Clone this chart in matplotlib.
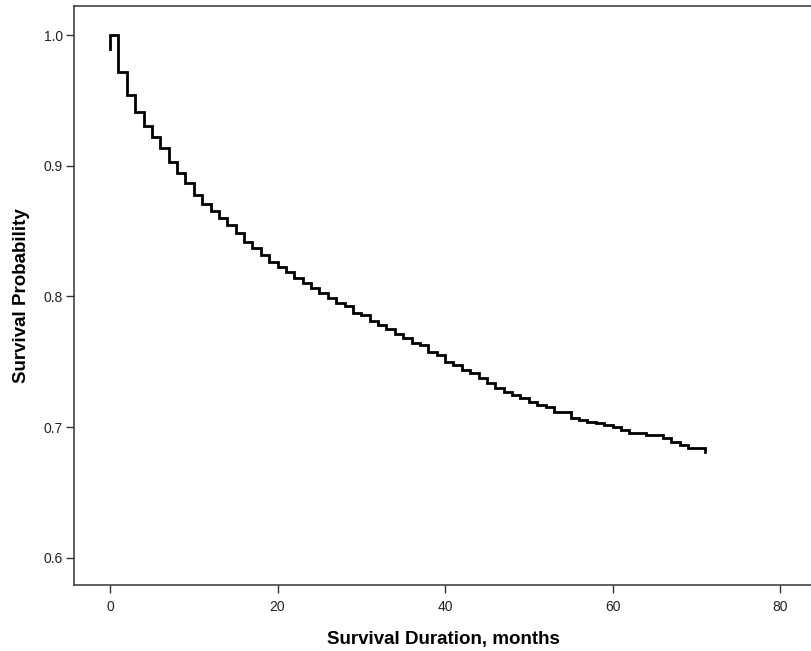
import matplotlib
matplotlib.use("Agg")
import matplotlib.pyplot as plt

# Kaplan-Meier estimate (months, survival probability)
months = [0, 0, 1, 2, 3, 4, 5, 6, 7, 8, 9, 10,
          11, 12, 13, 14, 15, 16, 17, 18, 19, 20,
          21, 22, 23, 24, 25, 26, 27, 28, 29, 30,
          31, 32, 33, 34, 35, 36, 37, 38, 39, 40,
          41, 42, 43, 44, 45, 46, 47, 48, 49, 50,
          51, 52, 53, 55, 56, 57, 58, 59, 60,
          61, 62, 64, 66, 67, 68, 69, 71]
survival = [0.989, 1.000, 0.9719, 0.9541, 0.9409, 0.9304, 0.9217, 0.9133, 0.9031, 0.8946, 0.8870, 0.8776,
            0.8707, 0.8656, 0.8598, 0.8546, 0.8483, 0.8419, 0.8368, 0.8317, 0.8265, 0.8227,
            0.8189, 0.8138, 0.8100, 0.8062, 0.8024, 0.7985, 0.7947, 0.7927, 0.7875, 0.7858,
            0.7814, 0.7781, 0.7748, 0.7710, 0.7679, 0.7641, 0.7628, 0.7577, 0.7552, 0.7500,
            0.7475, 0.7437, 0.7411, 0.7373, 0.7335, 0.7297, 0.7271, 0.7246, 0.7220, 0.7194,
            0.7169, 0.7156, 0.7118, 0.7067, 0.7054, 0.7041, 0.7029, 0.7016, 0.7003,
            0.6978, 0.6952, 0.6940, 0.6914, 0.6888, 0.6863, 0.6838, 0.6812]

x_ticks = [0, 20, 40, 60, 80]
y_ticks = [0.6, 0.7, 0.8, 0.9, 1.0]

plt.rcParams['font.family'] = ['Liberation Sans', 'DejaVu Sans']

fig = plt.figure(figsize=(8.12, 6.51), dpi=100)
ax = fig.add_axes([0.0911, 0.1014, 0.9089, 0.8894])

ax.plot(months, survival, drawstyle='steps-post', color='black',
        linewidth=2.0, solid_joinstyle='miter')

ax.set_xlim(-4.3, 83.8)
ax.set_ylim(0.5793, 1.0222)
ax.set_xticks(x_ticks)
ax.set_yticks(y_ticks)
ax.set_xticklabels([str(t) for t in x_ticks])
ax.set_yticklabels([f"{t:.1f}" for t in y_ticks])

for side in ['left', 'bottom', 'top']:
    ax.spines[side].set_color('#333333')
    ax.spines[side].set_linewidth(1.1)
ax.spines['right'].set_visible(False)

ax.tick_params(axis='both', direction='out', length=6, width=1.0,
               color='#333333', labelsize=10, labelcolor='#222222')
ax.tick_params(axis='x', pad=5)
ax.tick_params(axis='y', pad=2)

ax.set_xlabel('Survival Duration, months', fontsize=13.5, fontweight='bold',
              labelpad=12)
ax.set_ylabel('Survival Probability', fontsize=13.5, fontweight='bold',
              labelpad=10)

fig.savefig('out.png', dpi=100)
